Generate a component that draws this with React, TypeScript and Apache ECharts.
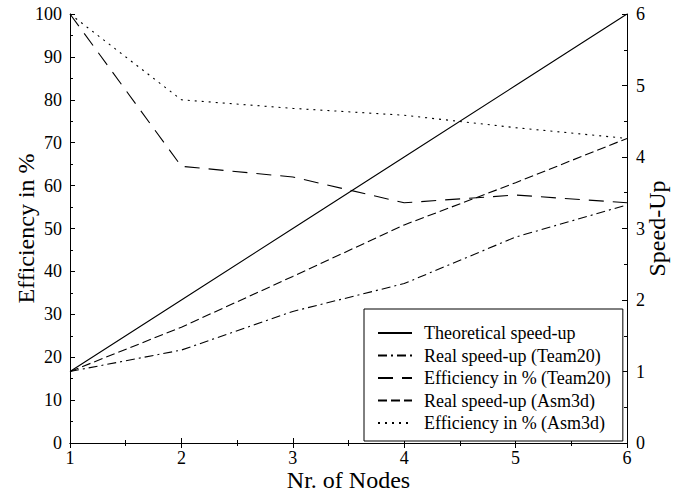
import React, { useEffect, useRef } from "react";
import * as echarts from "echarts";

const nodes = [1, 2, 3, 4, 5, 6];
const theoreticalSpeedup = [1, 2, 3, 4, 5, 6];
const realSpeedupTeam20 = [1, 1.3, 1.84, 2.23, 2.88, 3.33];
const efficiencyTeam20 = [100, 64.5, 62, 56, 57.8, 56];
const realSpeedupAsm3d = [1, 1.62, 2.33, 3.05, 3.64, 4.26];
const efficiencyAsm3d = [100, 80, 78, 76.4, 73.5, 71];

const FONT = "'Liberation Serif', 'Times New Roman', serif";

const pairs = (ys: number[]) => nodes.map((x, i) => [x, ys[i]]);

export default function App() {
  const ref = useRef<HTMLDivElement>(null);
  useEffect(() => {
    if (!ref.current) return;
    const chart = echarts.init(ref.current, undefined, { renderer: "svg" });
    const axisLine = { show: true, lineStyle: { color: "#000", width: 1 } };
    const axisTick = { show: true, inside: true, length: 5, lineStyle: { color: "#000" } };
    const minorTick = { show: true, splitNumber: 2, length: 3, lineStyle: { color: "#000" } };
    const label = { color: "#000", fontFamily: FONT, fontSize: 18, lineHeight: 16 };
    const nameStyle = { color: "#000", fontFamily: FONT, fontSize: 24, lineHeight: 20 };
    const mkLine = (name: string, data: number[], yAxisIndex: number, type: any) => ({
      name,
      type: "line",
      data: pairs(data),
      yAxisIndex,
      symbol: "none",
      showSymbol: false,
      lineStyle: { color: "#000", width: 1.1, type },
      itemStyle: { color: "#000" },
    });
    chart.setOption({
      animation: false,
      backgroundColor: "#fff",
      grid: { left: 70, right: 51, top: 14, bottom: 48, containLabel: false, outerBoundsMode: "none" },
      xAxis: [
        {
          type: "value",
          min: 1,
          max: 6,
          interval: 1,
          position: "bottom",
          axisLine,
          axisTick,
          minorTick,
          splitLine: { show: false },
          axisLabel: { ...label, margin: 6.5 },
          name: "Nr. of Nodes",
          nameLocation: "middle",
          nameGap: 26.5,
          nameMoveOverlap: false,
          nameTextStyle: nameStyle,
        },
        {
          type: "value",
          min: 1,
          max: 6,
          interval: 1,
          position: "top",
          axisLine,
          axisTick,
          minorTick,
          splitLine: { show: false },
          axisLabel: { show: false },
        },
      ],
      yAxis: [
        {
          type: "value",
          min: 0,
          max: 100,
          interval: 10,
          position: "left",
          axisLine,
          axisTick,
          minorTick,
          splitLine: { show: false },
          axisLabel: { ...label, margin: 8 },
          name: "Efficiency in %",
          nameLocation: "middle",
          nameRotate: 90,
          nameGap: 34,
          nameMoveOverlap: false,
          nameTextStyle: nameStyle,
        },
        {
          type: "value",
          min: 0,
          max: 6,
          interval: 1,
          position: "right",
          axisLine,
          axisTick,
          minorTick,
          splitLine: { show: false },
          axisLabel: { ...label, margin: 9 },
          name: "Speed-Up",
          nameLocation: "middle",
          nameRotate: 90,
          nameGap: 20,
          nameMoveOverlap: false,
          nameTextStyle: nameStyle,
        },
      ],
      legend: {
        orient: "vertical",
        left: 364,
        top: 309,
        backgroundColor: "#fff",
        borderColor: "#000",
        borderWidth: 1,
        borderRadius: 0,
        padding: [15, 12, 9, 13],
        itemWidth: 34,
        itemHeight: 14,
        itemGap: 4.5,
        itemStyle: { opacity: 0 },
        textStyle: { color: "#000", fontFamily: FONT, fontSize: 18, lineHeight: 18, padding: [0, 0, 0, 7] },
        data: [
          "Theoretical speed-up",
          "Real speed-up (Team20)",
          "Efficiency in % (Team20)",
          "Real speed-up (Asm3d)",
          "Efficiency in % (Asm3d)",
        ],
      },
      series: [
        mkLine("Theoretical speed-up", theoreticalSpeedup, 1, "solid"),
        mkLine("Real speed-up (Team20)", realSpeedupTeam20, 1, [9, 4, 2, 4]),
        mkLine("Efficiency in % (Team20)", efficiencyTeam20, 0, [15, 9]),
        mkLine("Real speed-up (Asm3d)", realSpeedupAsm3d, 1, [9, 4]),
        mkLine("Efficiency in % (Asm3d)", efficiencyAsm3d, 0, [2, 5]),
      ],
    });
    return () => chart.dispose();
  }, []);
  return <div ref={ref} style={{ width: 678, height: 491, position: "absolute", left: 0, top: 0 }} />;
}
